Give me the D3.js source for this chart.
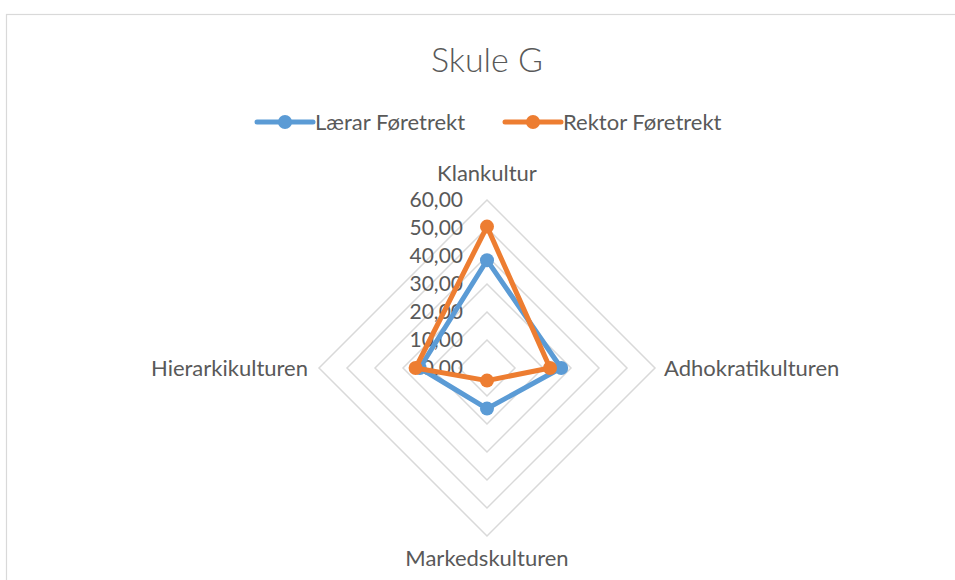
<!DOCTYPE html>
<html>
<head>
<meta charset="utf-8">
<script src="https://cdn.jsdelivr.net/npm/d3@7"></script>
<style>
  body { margin: 0; background: #fff; }
  text { font-family: Lato, "Open Sans", sans-serif; fill: #595959; }
</style>
</head>
<body>
<script>
// chart data
var categories = ["Klankultur", "Adhokratikulturen", "Markedskulturen", "Hierarkikulturen"];
var seriesNames = ["Lærar Føretrekt", "Rektor Føretrekt"];
var laerar = [38.5, 26.5, 14.5, 24.0];
var rektor = [50.5, 22.5, 4.5, 25.5];
var ticks = [0, 10, 20, 30, 40, 50, 60];
var colors = ["#5b9bd5", "#ed7d31"];

var width = 955, height = 580;
var cx = 487, cy = 368, R = 168;

var svg = d3.select("body").append("svg")
    .attr("width", width)
    .attr("height", height);

// chart border
svg.append("rect")
    .attr("x", 6.5).attr("y", 14.5)
    .attr("width", 960).attr("height", 600)
    .attr("fill", "none")
    .attr("stroke", "#d9d9d9")
    .attr("stroke-width", 1.2);

var r = d3.scaleLinear().domain([0, 60]).range([0, R]);
var angle = d3.scalePoint().domain(categories).range([0, 2 * Math.PI * 3 / 4]);

function pt(cat, v) {
    var a = angle(cat);
    return [cx + r(v) * Math.sin(a), cy - r(v) * Math.cos(a)];
}

// title
svg.append("text")
    .attr("x", cx).attr("y", 72)
    .attr("text-anchor", "middle")
    .style("font-size", "34px")
    .style("font-weight", 300)
    .text("Skule G");

// grid rings
var g = svg.append("g");
g.selectAll(".ring")
  .data(ticks.slice(1))
.enter().append("polygon")
  .attr("class", "ring")
  .attr("points", function(t) {
      return categories.map(function(c) { return pt(c, t).join(","); }).join(" ");
  })
  .attr("fill", "none")
  .attr("stroke", "#d9d9d9")
  .attr("stroke-width", 1.5);

// tick labels
g.selectAll(".tick")
  .data(ticks)
.enter().append("text")
  .attr("class", "tick")
  .attr("x", 463)
  .attr("y", function(t) { return cy - r(t); })
  .attr("dy", "0.35em")
  .attr("text-anchor", "end")
  .style("font-size", "21px")
  .text(function(t) { return d3.format(".2f")(t).replace(".", ","); });

// category labels
var labelPos = [
    { x: cx, y: 173, anchor: "middle" },
    { x: 664, y: cy, anchor: "start" },
    { x: cx, y: 558, anchor: "middle" },
    { x: 308, y: cy, anchor: "end" }
];
g.selectAll(".cat")
  .data(categories)
.enter().append("text")
  .attr("class", "cat")
  .attr("x", function(d, i) { return labelPos[i].x; })
  .attr("y", function(d, i) { return labelPos[i].y; })
  .attr("dy", "0.35em")
  .attr("text-anchor", function(d, i) { return labelPos[i].anchor; })
  .style("font-size", "22px")
  .text(function(d) { return d; });

// series
var allSeries = [laerar, rektor];
var line = d3.line().curve(d3.curveLinearClosed);
allSeries.forEach(function(vals, si) {
    var pts = categories.map(function(c, i) { return pt(c, vals[i]); });
    var sg = svg.append("g");
    sg.append("path")
        .attr("d", line(pts))
        .attr("fill", "none")
        .attr("stroke", colors[si])
        .attr("stroke-width", 5)
        .attr("stroke-linejoin", "round");
    sg.selectAll("circle")
      .data(pts)
    .enter().append("circle")
      .attr("cx", function(d) { return d[0]; })
      .attr("cy", function(d) { return d[1]; })
      .attr("r", 7)
      .attr("fill", colors[si]);
});

// legend
var legendX = [257, 505];
var leg = svg.selectAll(".legend")
  .data(seriesNames)
.enter().append("g")
  .attr("class", "legend")
  .attr("transform", function(d, i) { return "translate(" + legendX[i] + ",122)"; });
leg.append("line")
  .attr("x1", 0).attr("x2", 56)
  .attr("stroke", function(d, i) { return colors[i]; })
  .attr("stroke-width", 5)
  .attr("stroke-linecap", "round");
leg.append("circle")
  .attr("cx", 28).attr("r", 7)
  .attr("fill", function(d, i) { return colors[i]; });
leg.append("text")
  .attr("x", 58)
  .attr("dy", "0.35em")
  .style("font-size", "22px")
  .text(function(d) { return d; });
</script>
</body>
</html>
